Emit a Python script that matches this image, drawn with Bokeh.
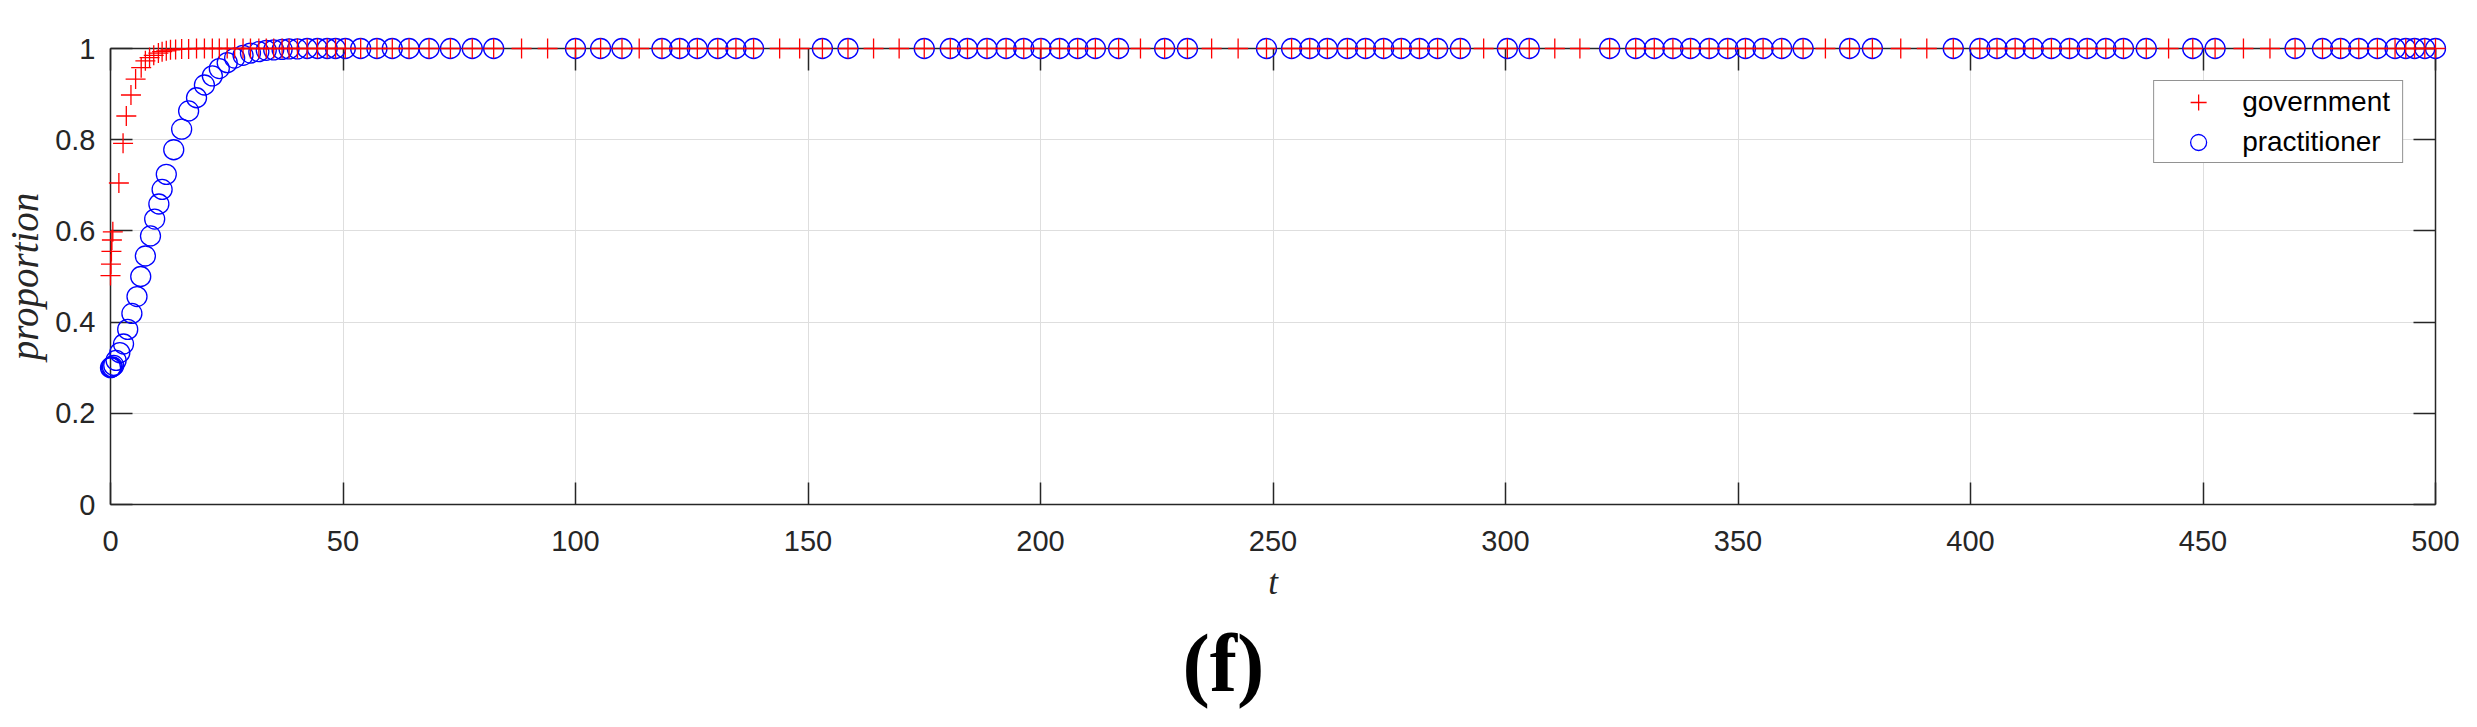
from bokeh.plotting import figure
from bokeh.models import (Range1d, FixedTicker, LinearAxis, CustomJSTickFormatter,
                          Legend, LegendItem, Title)
from bokeh.embed import file_html
from bokeh.resources import INLINE

# ---------------- data ----------------
x_ticks = [0, 50, 100, 150, 200, 250, 300, 350, 400, 450, 500]
y_ticks = [0, 0.2, 0.4, 0.6, 0.8, 1]
y_tick_labels = ["0", "0.2", "0.4", "0.6", "0.8", "1"]

series_names = ["government", "practitioner"]

t_gov = [0.0, 0.1, 0.2, 0.3, 0.5, 1.8, 2.7, 3.4, 4.4, 5.4,
         6.6, 7.5, 8.4, 9.3, 10.3, 11.1, 12.0, 12.9, 14.0,
         15.3, 16.8, 18.5, 20.2, 21.9, 23.4, 25.1, 26.7, 28.5, 30.1,
         31.9, 33.5, 35.1, 36.9, 38.4, 40.2, 42.3, 44.5, 46.6, 48.4,
         50.5, 53.8, 57.3, 60.6, 64.2, 68.5, 73.1, 77.8, 82.4, 88.4,
         94.0, 100.0, 105.4, 110.0, 113.7, 118.6, 122.4, 126.2, 130.6, 134.5,
         138.3, 143.9, 148.2, 153.1, 158.6, 164.1, 169.6, 175.0, 180.6, 184.3,
         188.5, 192.6, 196.4, 200.1, 204.1, 208.0, 211.8, 216.8, 221.5, 226.7,
         231.6, 236.8, 242.5, 248.6, 254.0, 257.9, 261.7, 266.0, 269.9, 273.8,
         277.6, 281.5, 285.4, 290.3, 295.3, 300.4, 305.1, 310.6, 316.0, 322.4,
         328.0, 332.0, 336.0, 339.8, 343.8, 347.8, 351.6, 355.4, 359.4, 364.0,
         368.8, 374.0, 378.9, 385.0, 390.6, 396.3, 402.0, 405.7, 409.6, 413.5,
         417.4, 421.3, 425.1, 429.1, 432.9, 437.8, 442.6, 447.8, 452.6, 458.7,
         464.4, 469.8, 475.7, 479.6, 483.5, 487.5, 491.3, 493.6, 495.5, 497.7,
         500.0]
y_gov = [0.502, 0.527, 0.555, 0.580, 0.598, 0.705, 0.792, 0.852, 0.898, 0.933,
         0.958, 0.973, 0.980, 0.985, 0.990, 0.993, 0.995, 0.997, 0.998,
         0.999, 0.999, 1.0, 1.0, 1.0, 1.0, 1.0, 1.0, 1.0, 1.0,
         1.0, 1.0, 1.0, 1.0, 1.0, 1.0, 1.0, 1.0, 1.0, 1.0,
         1.0, 1.0, 1.0, 1.0, 1.0, 1.0, 1.0, 1.0, 1.0, 1.0,
         1.0, 1.0, 1.0, 1.0, 1.0, 1.0, 1.0, 1.0, 1.0, 1.0,
         1.0, 1.0, 1.0, 1.0, 1.0, 1.0, 1.0, 1.0, 1.0, 1.0,
         1.0, 1.0, 1.0, 1.0, 1.0, 1.0, 1.0, 1.0, 1.0, 1.0,
         1.0, 1.0, 1.0, 1.0, 1.0, 1.0, 1.0, 1.0, 1.0, 1.0,
         1.0, 1.0, 1.0, 1.0, 1.0, 1.0, 1.0, 1.0, 1.0, 1.0,
         1.0, 1.0, 1.0, 1.0, 1.0, 1.0, 1.0, 1.0, 1.0, 1.0,
         1.0, 1.0, 1.0, 1.0, 1.0, 1.0, 1.0, 1.0, 1.0, 1.0,
         1.0, 1.0, 1.0, 1.0, 1.0, 1.0, 1.0, 1.0, 1.0, 1.0,
         1.0, 1.0, 1.0, 1.0, 1.0, 1.0, 1.0, 1.0, 1.0, 1.0,
         1.0]

t_prac = [0.0, 0.2, 0.4, 0.7, 1.2, 2.0, 2.8, 3.7, 4.6, 5.7,
          6.5, 7.5, 8.6, 9.5, 10.4, 11.1, 12.0, 13.6,
          15.3, 16.8, 18.5, 20.2, 21.9, 23.4, 25.1, 26.7, 28.5, 30.1,
          31.9, 33.5, 35.1, 36.9, 38.4, 40.2, 42.3, 44.5, 46.6, 48.4,
          50.5, 53.8, 57.3, 60.6, 64.2, 68.5, 73.1, 77.8, 82.4, 100.0,
          105.4, 110.0, 118.6, 122.4, 126.2, 130.6, 134.5, 138.3, 153.1, 158.6,
          175.0, 180.6, 184.3, 188.5, 192.6, 196.4, 200.1, 204.1, 208.0, 211.8,
          216.8, 226.7, 231.6, 248.6, 254.0, 257.9, 261.7, 266.0, 269.9, 273.8,
          277.6, 281.5, 285.4, 290.3, 300.4, 305.1, 322.4, 328.0, 332.0, 336.0,
          339.8, 343.8, 347.8, 351.6, 355.4, 359.4, 364.0, 374.0, 378.9, 396.3,
          402.0, 405.7, 409.6, 413.5, 417.4, 421.3, 425.1, 429.1, 432.9, 437.8,
          447.8, 452.6, 469.8, 475.7, 479.6, 483.5, 487.5, 491.3, 493.6, 495.5,
          497.7, 500.0]
y_prac = [0.300, 0.301, 0.302, 0.305, 0.316, 0.333, 0.352, 0.384, 0.419, 0.456,
          0.500, 0.545, 0.589, 0.626, 0.659, 0.691, 0.724, 0.778,
          0.823, 0.863, 0.892, 0.920, 0.940, 0.956, 0.969, 0.979, 0.985, 0.990,
          0.993, 0.996, 0.997, 0.998, 0.999, 0.999, 1.0, 1.0, 1.0, 1.0,
          1.0, 1.0, 1.0, 1.0, 1.0, 1.0, 1.0, 1.0, 1.0, 1.0,
          1.0, 1.0, 1.0, 1.0, 1.0, 1.0, 1.0, 1.0, 1.0, 1.0,
          1.0, 1.0, 1.0, 1.0, 1.0, 1.0, 1.0, 1.0, 1.0, 1.0,
          1.0, 1.0, 1.0, 1.0, 1.0, 1.0, 1.0, 1.0, 1.0, 1.0,
          1.0, 1.0, 1.0, 1.0, 1.0, 1.0, 1.0, 1.0, 1.0, 1.0,
          1.0, 1.0, 1.0, 1.0, 1.0, 1.0, 1.0, 1.0, 1.0, 1.0,
          1.0, 1.0, 1.0, 1.0, 1.0, 1.0, 1.0, 1.0, 1.0, 1.0,
          1.0, 1.0, 1.0, 1.0, 1.0, 1.0, 1.0, 1.0, 1.0, 1.0,
          1.0, 1.0]

x_label = "t"
y_label = "proportion"
panel_label = "(f)"

assert len(t_gov) == len(y_gov)
assert len(t_prac) == len(y_prac)

# ---------------- figure ----------------
AX = "#262626"
GRID = "#dedede"

p = figure(frame_width=2325, frame_height=456,
           x_range=Range1d(0, 500), y_range=Range1d(0, 1),
           output_backend="svg", toolbar_location=None,
           min_border_left=107, min_border_right=29,
           min_border_top=48, min_border_bottom=207)
p.outline_line_color = None
p.background_fill_color = "white"
p.border_fill_color = "white"

y_fmt = CustomJSTickFormatter(args=dict(tvals=y_ticks, tlabels=y_tick_labels), code="""
    for (let i = 0; i < tvals.length; i++) {
        if (Math.abs(tvals[i] - tick) < 1e-9) { return tlabels[i]; }
    }
    return tick.toString();
""")
blank_fmt = CustomJSTickFormatter(code="return '';")


def style_axis(ax, ticks):
    ax.ticker = FixedTicker(ticks=ticks)
    ax.axis_line_color = AX
    ax.axis_line_width = 1.5
    ax.major_tick_line_color = AX
    ax.major_tick_line_width = 1.5
    ax.major_tick_in = 22
    ax.major_tick_out = 0
    ax.minor_tick_line_color = None
    ax.major_label_text_font = "Liberation Sans"
    ax.major_label_text_font_size = "29px"
    ax.major_label_text_color = AX


xa = p.xaxis[0]
style_axis(xa, x_ticks)
xa.major_label_standoff = 26
xa.axis_label = x_label
xa.axis_label_text_font = "Liberation Serif"
xa.axis_label_text_font_style = "italic"
xa.axis_label_text_font_size = "35px"
xa.axis_label_text_color = AX
xa.axis_label_standoff = 9

ya = p.yaxis[0]
style_axis(ya, y_ticks)
ya.formatter = y_fmt
ya.major_label_standoff = 15
ya.axis_label = y_label
ya.axis_label_text_font = "Liberation Serif"
ya.axis_label_text_font_style = "italic"
ya.axis_label_text_font_size = "39px"
ya.axis_label_text_color = AX
ya.axis_label_standoff = 6

top_ax = LinearAxis(formatter=blank_fmt)
style_axis(top_ax, x_ticks)
top_ax.major_label_standoff = 0
p.add_layout(top_ax, "above")

right_ax = LinearAxis(formatter=blank_fmt)
style_axis(right_ax, y_ticks)
right_ax.major_label_standoff = 0
p.add_layout(right_ax, "right")

p.xgrid.ticker = FixedTicker(ticks=x_ticks)
p.ygrid.ticker = FixedTicker(ticks=y_ticks)
for g in (p.xgrid, p.ygrid):
    g.grid_line_color = GRID
    g.grid_line_width = 1

r_prac = p.scatter(t_prac, y_prac, marker="circle", size=20, fill_color=None,
                   line_color="#0000ff", line_width=1.3, level="overlay")
r_gov = p.scatter(t_gov, y_gov, marker="cross", size=20,
                  line_color="#ff0000", line_width=1.3, level="overlay")

legend = Legend(items=[LegendItem(label=series_names[0], renderers=[r_gov]),
                       LegendItem(label=series_names[1], renderers=[r_prac])],
                location="top_right", margin=32,
                padding=dict(left=0, right=12, top=1, bottom=0), spacing=0,
                glyph_width=88, glyph_height=40, label_standoff=0,
                label_text_font="Liberation Sans", label_text_font_size="28px",
                label_text_color="#000000",
                border_line_color=AX, border_line_width=1.5,
                background_fill_color="white", background_fill_alpha=1.0)
p.add_layout(legend)

caption = Title(text=panel_label, align="left", offset=1072, standoff=22,
                text_font="Liberation Serif", text_font_style="bold",
                text_font_size="82px", text_color="black")
p.add_layout(caption, "below")

open("out.html", "w").write(file_html(p, INLINE))
